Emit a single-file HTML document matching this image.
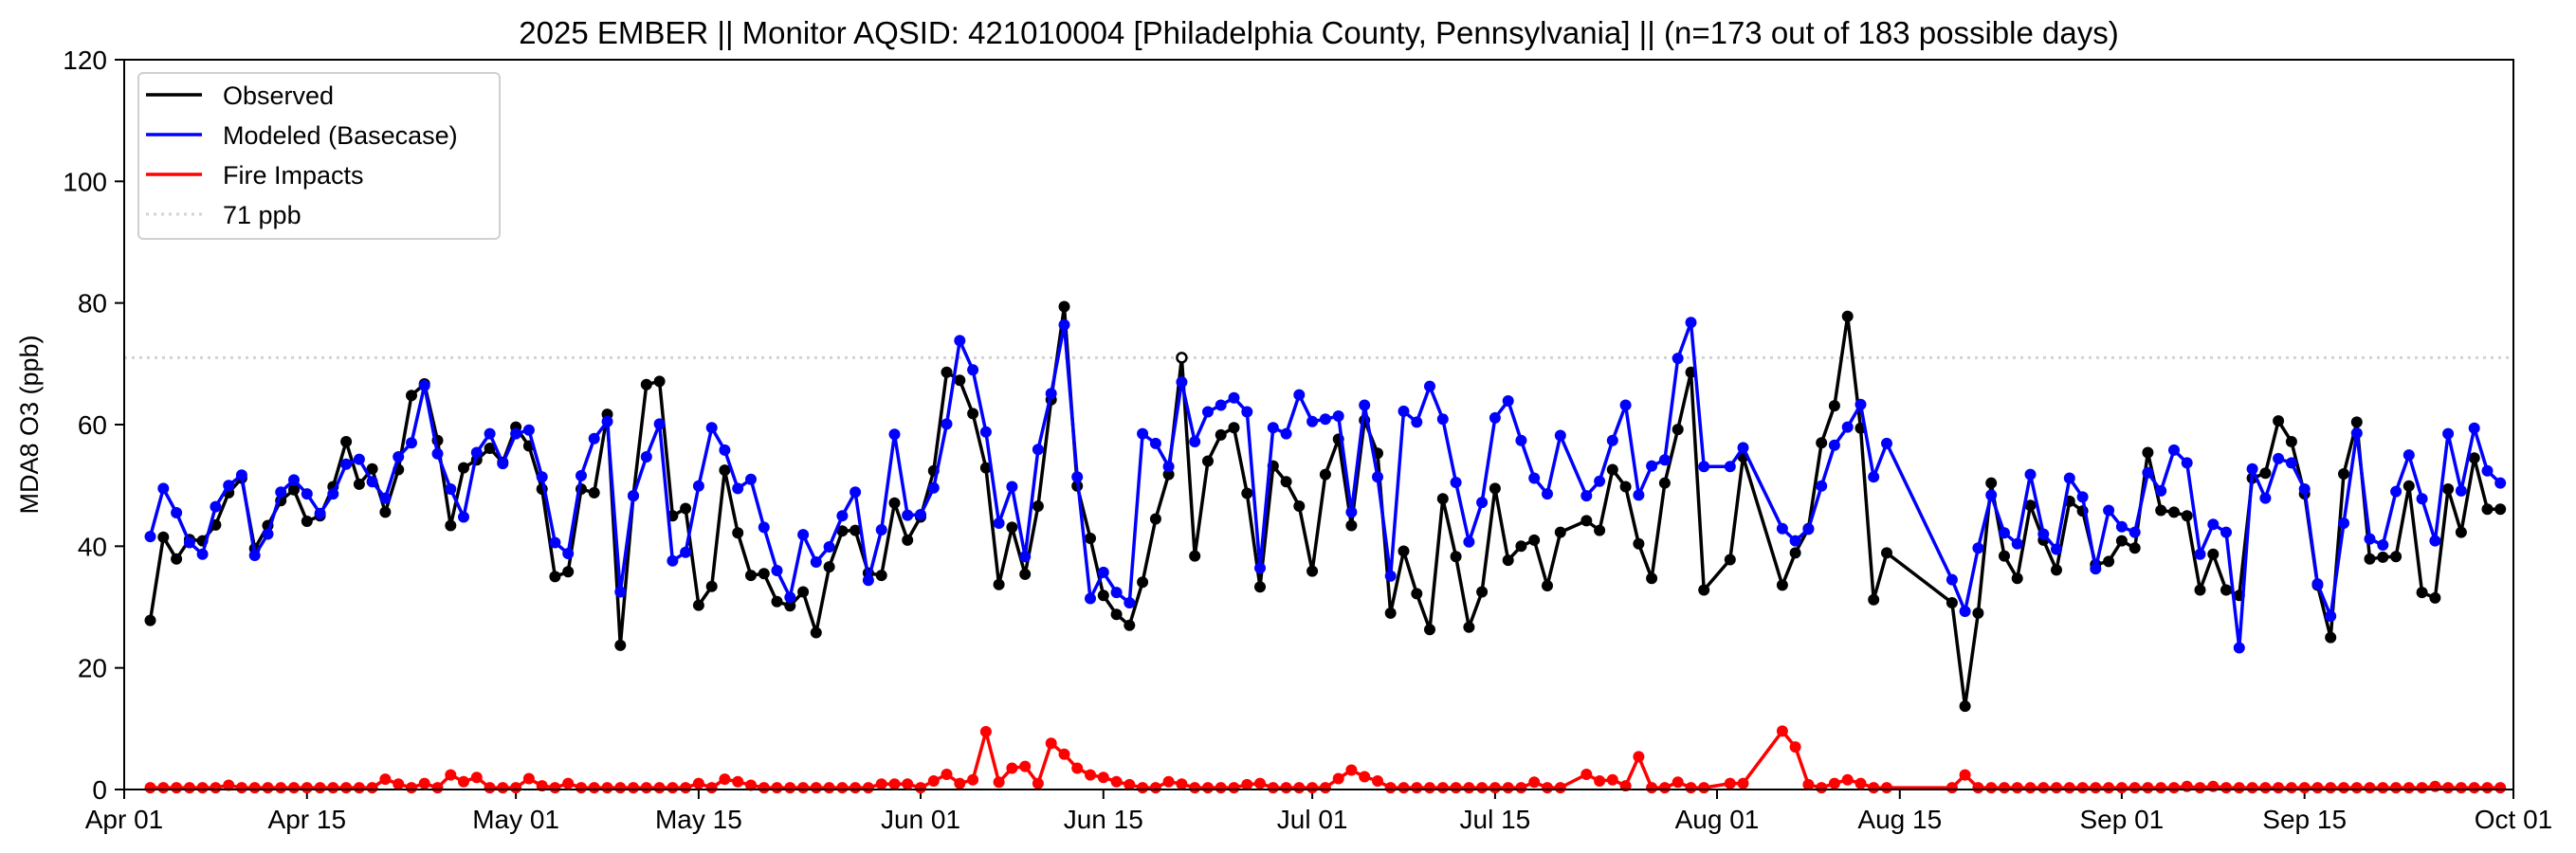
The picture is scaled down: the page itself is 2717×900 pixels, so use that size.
<!DOCTYPE html>
<html><head><meta charset="utf-8"><style>
html,body{margin:0;padding:0;background:#fff;}
svg{display:block;font-family:"Liberation Sans","DejaVu Sans",sans-serif;}
</style></head><body>
<svg id="s" width="2717" height="900" viewBox="0 0 2717 900" xmlns="http://www.w3.org/2000/svg">
<rect width="2717" height="900" fill="#fff"/>
<text x="1391" y="46" font-size="33" text-anchor="middle" fill="#000">2025 EMBER || Monitor AQSID: 421010004 [Philadelphia County, Pennsylvania] || (n=173 out of 183 possible days)</text>
<text transform="translate(40,448) rotate(-90)" font-size="27" text-anchor="middle" fill="#000">MDA8 O3 (ppb)</text>
<g id="g"></g>
<rect x="131" y="63" width="2520" height="770" fill="none" stroke="#000" stroke-width="2"/>
<g font-size="27">
<rect x="146" y="77" width="381" height="175" rx="5" fill="#fff" fill-opacity="0.85" stroke="#d0d0d0" stroke-width="2"/>
<line x1="154" y1="100" x2="213" y2="100" stroke="#000" stroke-width="3.5"/><text x="235" y="110">Observed</text>
<line x1="154" y1="142" x2="213" y2="142" stroke="#0000ff" stroke-width="3.5"/><text x="235" y="152">Modeled (Basecase)</text>
<line x1="154" y1="184" x2="213" y2="184" stroke="#ff0000" stroke-width="3.5"/><text x="235" y="194">Fire Impacts</text>
<line x1="154" y1="226" x2="213" y2="226" stroke="#d3d3d3" stroke-width="3" stroke-dasharray="3,5"/><text x="235" y="236">71 ppb</text>
</g>
</svg>
<script>
var X0=131,X1=2651,Y0=833,PPD=(X1-X0)/183,PPB=770/120;
function xd(d){return X0+d*PPD;}function yv(v){return Y0-v*PPB;}
var days=[];for(var d=2;d<=110;d++)days.push(d);for(d=112;d<=121;d++)days.push(d);days.push(123,124);for(d=127;d<=135;d++)days.push(d);for(d=140;d<=182;d++)days.push(d);
var obs=[27.8,41.5,37.9,41.1,40.9,43.5,48.8,51.2,39.6,43.4,47.5,49.3,44.1,45.0,49.8,57.2,50.2,52.7,45.6,52.6,64.8,66.7,57.4,43.4,52.9,54.2,56.1,53.8,59.6,56.5,49.4,35.0,35.8,49.4,48.8,61.7,23.7,48.3,66.6,67.1,45.0,46.2,30.3,33.4,52.5,42.2,35.2,35.5,
30.9,30.2,32.5,25.8,36.6,42.5,42.6,35.6,35.2,47.1,41.0,44.8,52.4,68.6,67.3,61.8,52.9,33.7,43.1,35.4,46.6,64.1,79.4,49.9,41.3,31.9,28.8,27.0,34.1,44.5,51.8,71.0,38.4,54.0,58.3,59.5,48.7,33.3,53.2,50.6,46.6,35.9,51.8,57.6,43.4,60.7,55.3,29.0,39.2,
32.2,26.3,47.8,38.3,26.7,32.5,49.5,37.7,40.0,41.0,33.5,42.3,
44.2,42.6,52.6,49.8,40.4,34.7,50.4,59.2,68.6,32.8,
37.8,54.7,
33.6,38.9,42.9,57.0,63.1,77.8,59.4,31.2,38.9,
30.7,13.7,29.0,50.4,
38.4,34.7,46.7,41.0,36.1,47.4,45.8,37.0,37.5,40.9,39.7,55.4,45.9,45.6,45.0,32.8,38.7,32.8,31.9,51.2,52.0,60.6,57.2,48.6,33.6,25.0,51.9,60.4,37.9,38.2,38.3,49.9,32.4,31.5,49.4,42.3,54.5,46.1,46.1];
var mod=[41.6,49.5,45.5,40.6,38.7,46.5,50.0,51.7,38.5,42.0,48.9,50.9,48.6,45.4,48.6,53.5,54.3,50.6,47.9,54.7,57.0,66.4,55.2,49.4,44.8,55.4,58.5,53.6,58.5,59.1,51.4,40.6,38.8,51.6,57.7,60.5,32.5,48.3,54.7,60.1,37.6,39.0,49.9,59.5,55.8,49.5,51.0,43.1,
36.0,31.6,41.9,37.4,39.9,45.0,48.9,34.4,42.7,58.4,45.1,45.2,49.6,60.1,73.8,69.0,58.8,43.8,49.8,38.3,55.9,65.1,76.4,51.4,31.4,35.7,32.4,30.7,58.5,56.9,53.1,67.0,57.2,62.1,63.2,64.4,62.1,36.4,59.5,58.5,64.9,60.5,60.9,61.4,45.6,63.2,51.4,35.1,62.2,
60.4,66.3,60.9,50.5,40.7,47.2,61.1,63.9,57.4,51.2,48.6,58.2,
48.3,50.7,57.4,63.2,48.4,53.2,54.2,70.9,76.8,53.1,
53.1,56.2,
42.9,40.9,42.8,49.9,56.6,59.6,63.3,51.4,56.9,
34.5,29.3,39.7,48.4,
42.2,40.4,51.8,42.0,39.5,51.2,48.1,36.3,45.9,43.2,42.3,52.1,49.1,55.8,53.7,38.7,43.6,42.3,23.3,52.7,47.9,54.4,53.7,49.4,33.8,28.5,43.8,58.6,41.2,40.2,49.0,55.0,47.8,40.9,58.5,49.1,59.4,52.4,50.4];
var fo={8:0.7,20:1.7,21:0.9,23:1.0,25:2.4,26:1.3,27:2.0,31:1.8,32:0.6,34:1.0,44:1.0,46:1.7,47:1.3,48:0.7,
58:0.9,59:0.9,60:0.9,62:1.4,63:2.5,64:1.0,65:1.6,66:9.5,67:1.2,68:3.5,69:3.8,70:1.0,71:7.6,72:5.8,73:3.5,74:2.4,75:2.0,76:1.3,77:0.8,80:1.3,81:0.9,86:0.8,87:1.0,93:1.8,94:3.2,95:2.1,96:1.4,
108:1.2,112:2.5,113:1.4,114:1.6,115:0.6,116:5.4,119:1.2,123:1.0,124:1.0,127:9.6,128:7.0,129:0.8,131:1.0,132:1.6,133:1.0,141:2.4,158:0.5,160:0.5,177:0.5};
var fire=days.map(function(d){return fo[d]!==undefined?fo[d]:0.3;});
var g=document.getElementById("g"),h="";
for(var v=0;v<=120;v+=20){var y=yv(v);h+='<line x1="121" y1="'+y+'" x2="131" y2="'+y+'" stroke="#000" stroke-width="2"/><text x="113" y="'+(y+10)+'" font-size="28" text-anchor="end">'+v+'</text>';}
var xt=[[0,"Apr 01"],[14,"Apr 15"],[30,"May 01"],[44,"May 15"],[61,"Jun 01"],[75,"Jun 15"],[91,"Jul 01"],[105,"Jul 15"],[122,"Aug 01"],[136,"Aug 15"],[153,"Sep 01"],[167,"Sep 15"],[183,"Oct 01"]];
xt.forEach(function(t){var x=xd(t[0]);h+='<line x1="'+x+'" y1="833" x2="'+x+'" y2="843" stroke="#000" stroke-width="2"/><text x="'+x+'" y="874" font-size="28" text-anchor="middle">'+t[1]+'</text>';});
h+='<line x1="131" y1="'+yv(71)+'" x2="2651" y2="'+yv(71)+'" stroke="#d3d3d3" stroke-width="3" stroke-dasharray="3,5"/>';
function series(vals,col,openDay){var p=days.map(function(d,i){return xd(d).toFixed(1)+","+yv(vals[i]).toFixed(1);}).join(" ");
var s='<polyline points="'+p+'" fill="none" stroke="'+col+'" stroke-width="3.5" stroke-linejoin="round"/>';
days.forEach(function(d,i){var f=(d===openDay)?"#fff":col;s+='<circle cx="'+xd(d).toFixed(1)+'" cy="'+yv(vals[i]).toFixed(1)+'" r="'+(d===openDay?5:6)+'" fill="'+f+'" stroke="'+col+'" stroke-width="'+(d===openDay?2.5:0)+'"/>';});return s;}
h+=series(obs,"#000",81);h+=series(mod,"#0000ff",-1);h+=series(fire,"#ff0000",-1);
g.innerHTML=h;
</script>
</body></html>
